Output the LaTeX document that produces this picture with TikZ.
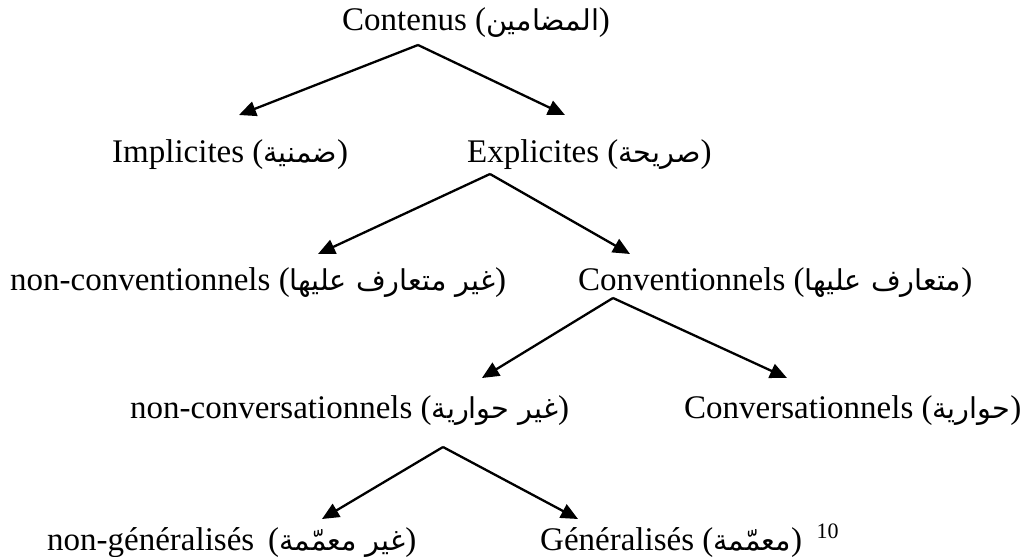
\documentclass[tikz,border=0pt]{standalone}
\usepackage{fontspec}
\setmainfont{Liberation Serif}
\newfontfamily\arabicfont[Script=Arabic,Scale=0.87]{DejaVu Sans}
\TeXXeTstate=1
\usetikzlibrary{arrows.meta}
\newcommand{\artxt}[1]{{\arabicfont\beginR #1\endR}}

\begin{document}
\begin{tikzpicture}[
    x=1pt, y=-1pt,
    lbl/.style={anchor=base west, inner sep=0pt, font=\fontsize{33}{40}\selectfont},
    branch/.style={-{Triangle[length=17pt,width=15pt]}, line width=2.3pt}
]
    \useasboundingbox (0,0) rectangle (1026,557);

    % Level 1
    \node[lbl] (cont) at (342,30) {Contenus (\artxt{المضامين})};
    \coordinate (cont-fork) at (418,45);

    % Level 2
    \node[lbl] (impl) at (112,162) {Implicites (\artxt{ضمنية})};
    \node[lbl] (expl) at (467,162) {Explicites (\artxt{صريحة})};
    \coordinate (impl-tip) at (239,115);
    \coordinate (expl-tip) at (565,115);
    \draw[branch] (cont-fork) -- (impl-tip);
    \draw[branch] (cont-fork) -- (expl-tip);
    \coordinate (expl-fork) at (490,174);

    % Level 3
    \node[lbl] (nconv) at (10,290) {non-conventionnels (\artxt{غير متعارف عليها})};
    \node[lbl] (conv) at (578,290) {Conventionnels (\artxt{متعارف عليها})};
    \coordinate (nconv-tip) at (318,254);
    \coordinate (conv-tip) at (630,254);
    \draw[branch] (expl-fork) -- (nconv-tip);
    \draw[branch] (expl-fork) -- (conv-tip);
    \coordinate (conv-fork) at (613,298);

    % Level 4
    \node[lbl] (nconvers) at (130,418) {non-conversationnels (\artxt{غير حوارية})};
    \node[lbl] (convers) at (684,418) {Conversationnels (\artxt{حوارية})};
    \coordinate (nconvers-tip) at (482,378);
    \coordinate (convers-tip) at (787,378);
    \draw[branch] (conv-fork) -- (nconvers-tip);
    \draw[branch] (conv-fork) -- (convers-tip);
    \coordinate (nconvers-fork) at (443,447);

    % Level 5
    \node[lbl] (ngen) at (47,550) {non-généralisés\, (\artxt{غير معمّمة})};
    \node[lbl] (gen) at (540,550) {Généralisés (\artxt{معمّمة})};
    \node[anchor=base west, inner sep=0pt, font=\fontsize{22}{26}\selectfont] (note) at ([xshift=14pt]gen.base east) [yshift=12pt] {10};
    \coordinate (ngen-tip) at (322,519);
    \coordinate (gen-tip) at (578,519);
    \draw[branch] (nconvers-fork) -- (ngen-tip);
    \draw[branch] (nconvers-fork) -- (gen-tip);
\end{tikzpicture}
\end{document}
